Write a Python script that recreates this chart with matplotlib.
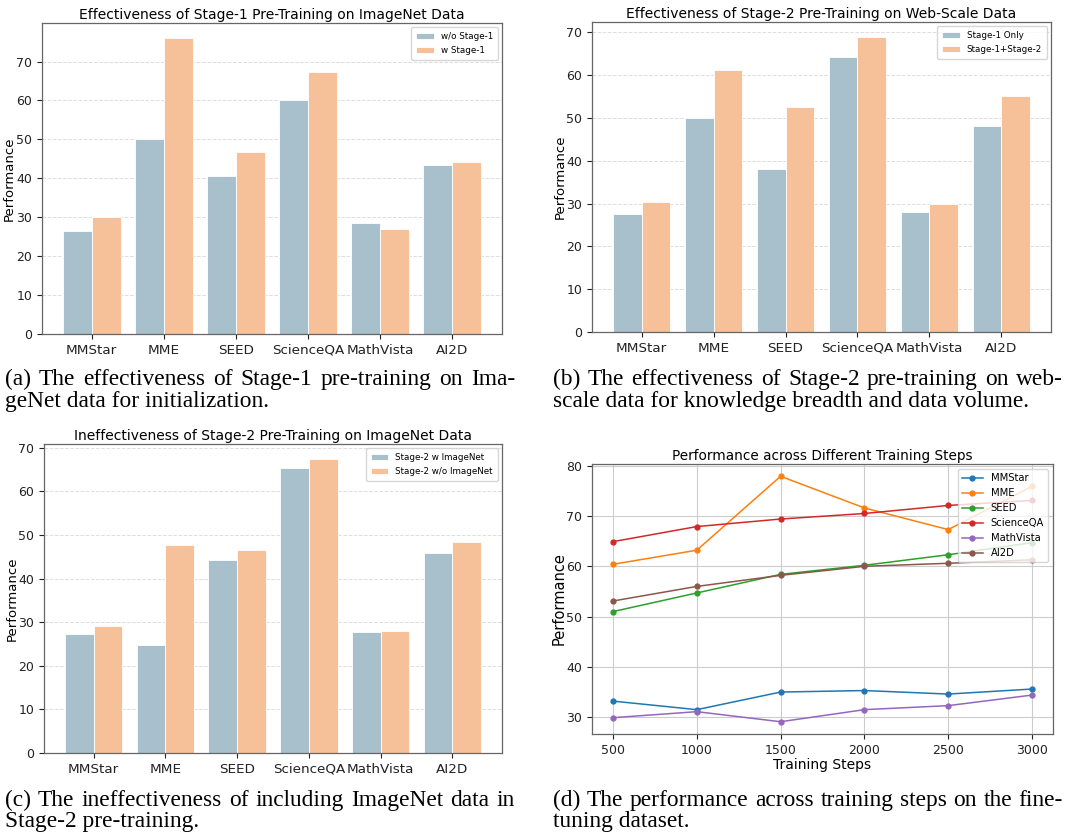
import matplotlib
matplotlib.use("Agg")
import matplotlib.pyplot as plt
import numpy as np

W, H = 1065, 834

categories = ["MMStar", "MME", "SEED", "ScienceQA", "MathVista", "AI2D"]

# (a)
a_labels = ["w/o Stage-1", "w Stage-1"]
a_wo = [26.4, 50.2, 40.5, 60.2, 28.6, 43.4]
a_w = [30.1, 76.1, 46.8, 67.3, 27.0, 44.2]

# (b)
b_labels = ["Stage-1 Only", "Stage-1+Stage-2"]
b_s1 = [27.6, 50.0, 38.1, 64.2, 28.1, 48.1]
b_s12 = [30.4, 61.2, 52.7, 69.0, 30.0, 55.1]

# (c)
c_labels = ["Stage-2 w ImageNet", "Stage-2 w/o ImageNet"]
c_w = [27.4, 24.7, 44.2, 65.3, 27.8, 45.8]
c_wo = [29.2, 47.8, 46.5, 67.5, 28.0, 48.3]

# (d)
steps = [500, 1000, 1500, 2000, 2500, 3000]
d_series = ["MMStar", "MME", "SEED", "ScienceQA", "MathVista", "AI2D"]
d_mmstar = [33.2, 31.5, 35.0, 35.3, 34.6, 35.6]
d_mme = [60.4, 63.2, 77.9, 71.6, 67.3, 75.9]
d_seed = [51.0, 54.7, 58.4, 60.2, 62.3, 64.7]
d_sqa = [64.9, 67.9, 69.4, 70.5, 72.1, 73.1]
d_mathvista = [29.9, 31.1, 29.1, 31.5, 32.3, 34.4]
d_ai2d = [53.1, 56.0, 58.2, 60.0, 60.6, 61.3]

titles = [
    "Effectiveness of Stage-1 Pre-Training on ImageNet Data",
    "Effectiveness of Stage-2 Pre-Training on Web-Scale Data",
    "Ineffectiveness of Stage-2 Pre-Training on ImageNet Data",
    "Performance across Different Training Steps",
]
captions = [
    ["(a) The effectiveness of Stage-1 pre-training on Ima-", "geNet data for initialization."],
    ["(b) The effectiveness of Stage-2 pre-training on web-", "scale data for knowledge breadth and data volume."],
    ["(c) The ineffectiveness of including ImageNet data in", "Stage-2 pre-training."],
    ["(d) The performance across training steps on the fine-", "tuning dataset."],
]

BLUE = "#A8BFCC"
ORANGE = "#F6C198"
SPINE = "#666666"

fig = plt.figure(figsize=(W / 100, H / 100), dpi=100)


def rect(l, t, r, b):
    return [l / W, (H - b) / H, (r - l) / W, (b - t) / H]


def style(ax):
    for s in ax.spines.values():
        s.set_color(SPINE)
        s.set_linewidth(0.9)
    ax.tick_params(colors="#222222", labelsize=9, length=3.5, width=0.8)
    ax.yaxis.set_label_coords(-0.056, 0.5)


def bar_panel(pos, s1, s2, labels, title):
    ax = fig.add_axes(rect(*pos))
    x = np.arange(len(categories))
    w = 0.4
    ax.bar(x - w / 2, s1, w, color=BLUE, edgecolor="white", linewidth=0.6, label=labels[0])
    ax.bar(x + w / 2, s2, w, color=ORANGE, edgecolor="white", linewidth=0.6, label=labels[1])
    ax.set_xticks(x)
    ax.set_xticklabels(categories)
    ax.set_ylabel("Performance", fontsize=9.5)
    ax.set_title(title, fontsize=10, pad=3)
    ax.yaxis.grid(True, linestyle="--", color="#dddddd", linewidth=0.7)
    ax.set_axisbelow(True)
    style(ax)
    ax.tick_params(axis="x", labelsize=9.7)
    ax.legend(loc="upper right", fontsize=6.3, frameon=True, handlelength=2.0,
              borderpad=0.55, labelspacing=0.55)
    return ax


bar_panel((42, 23, 502, 334), a_wo, a_w, a_labels, titles[0])
bar_panel((592, 22, 1051, 332), b_s1, b_s12, b_labels, titles[1])
bar_panel((44, 444, 502, 753), c_w, c_wo, c_labels, titles[2])

ax = fig.add_axes(rect(592, 464, 1053, 734))
for name, vals in zip(d_series, [d_mmstar, d_mme, d_seed, d_sqa, d_mathvista, d_ai2d]):
    ax.plot(steps, vals, marker="o", markersize=3.5, linewidth=1.1, label=name)
ax.set_xticks(steps)
ax.set_xlabel("Training Steps", fontsize=10, labelpad=1)
ax.set_ylabel("Performance", fontsize=10.5)
ax.set_title(titles[3], fontsize=9.8, pad=3)
ax.grid(True, color="#cccccc", linewidth=0.8)
style(ax)
ax.tick_params(labelsize=9)
ax.legend(loc="upper right", fontsize=7.2, handlelength=2.1, labelspacing=0.5)

# captions: first line justified to the column width, second line left-aligned
cap_font = dict(family=["Liberation Serif", "DejaVu Serif"], fontsize=16.8, color="black",
                va="baseline", ha="left")
cap_pos = [(5, 515, 385, 407), (553, 1063, 385, 407), (5, 515, 806, 827), (553, 1063, 806, 827)]
renderer = fig.canvas.get_renderer()
for (x0, x1, y1, y2), lines in zip(cap_pos, captions):
    words = lines[0].split(" ")
    objs = [fig.text(0, 1 - y1 / H, wd, **cap_font) for wd in words]
    widths = [o.get_window_extent(renderer).width for o in objs]
    gap = ((x1 - x0) - sum(widths)) / (len(words) - 1)
    xc = x0
    for o, wdt in zip(objs, widths):
        o.set_x(xc / W)
        xc += wdt + gap
    fig.text(x0 / W, 1 - y2 / H, lines[1], **cap_font)

fig.savefig("out.png", dpi=100)
